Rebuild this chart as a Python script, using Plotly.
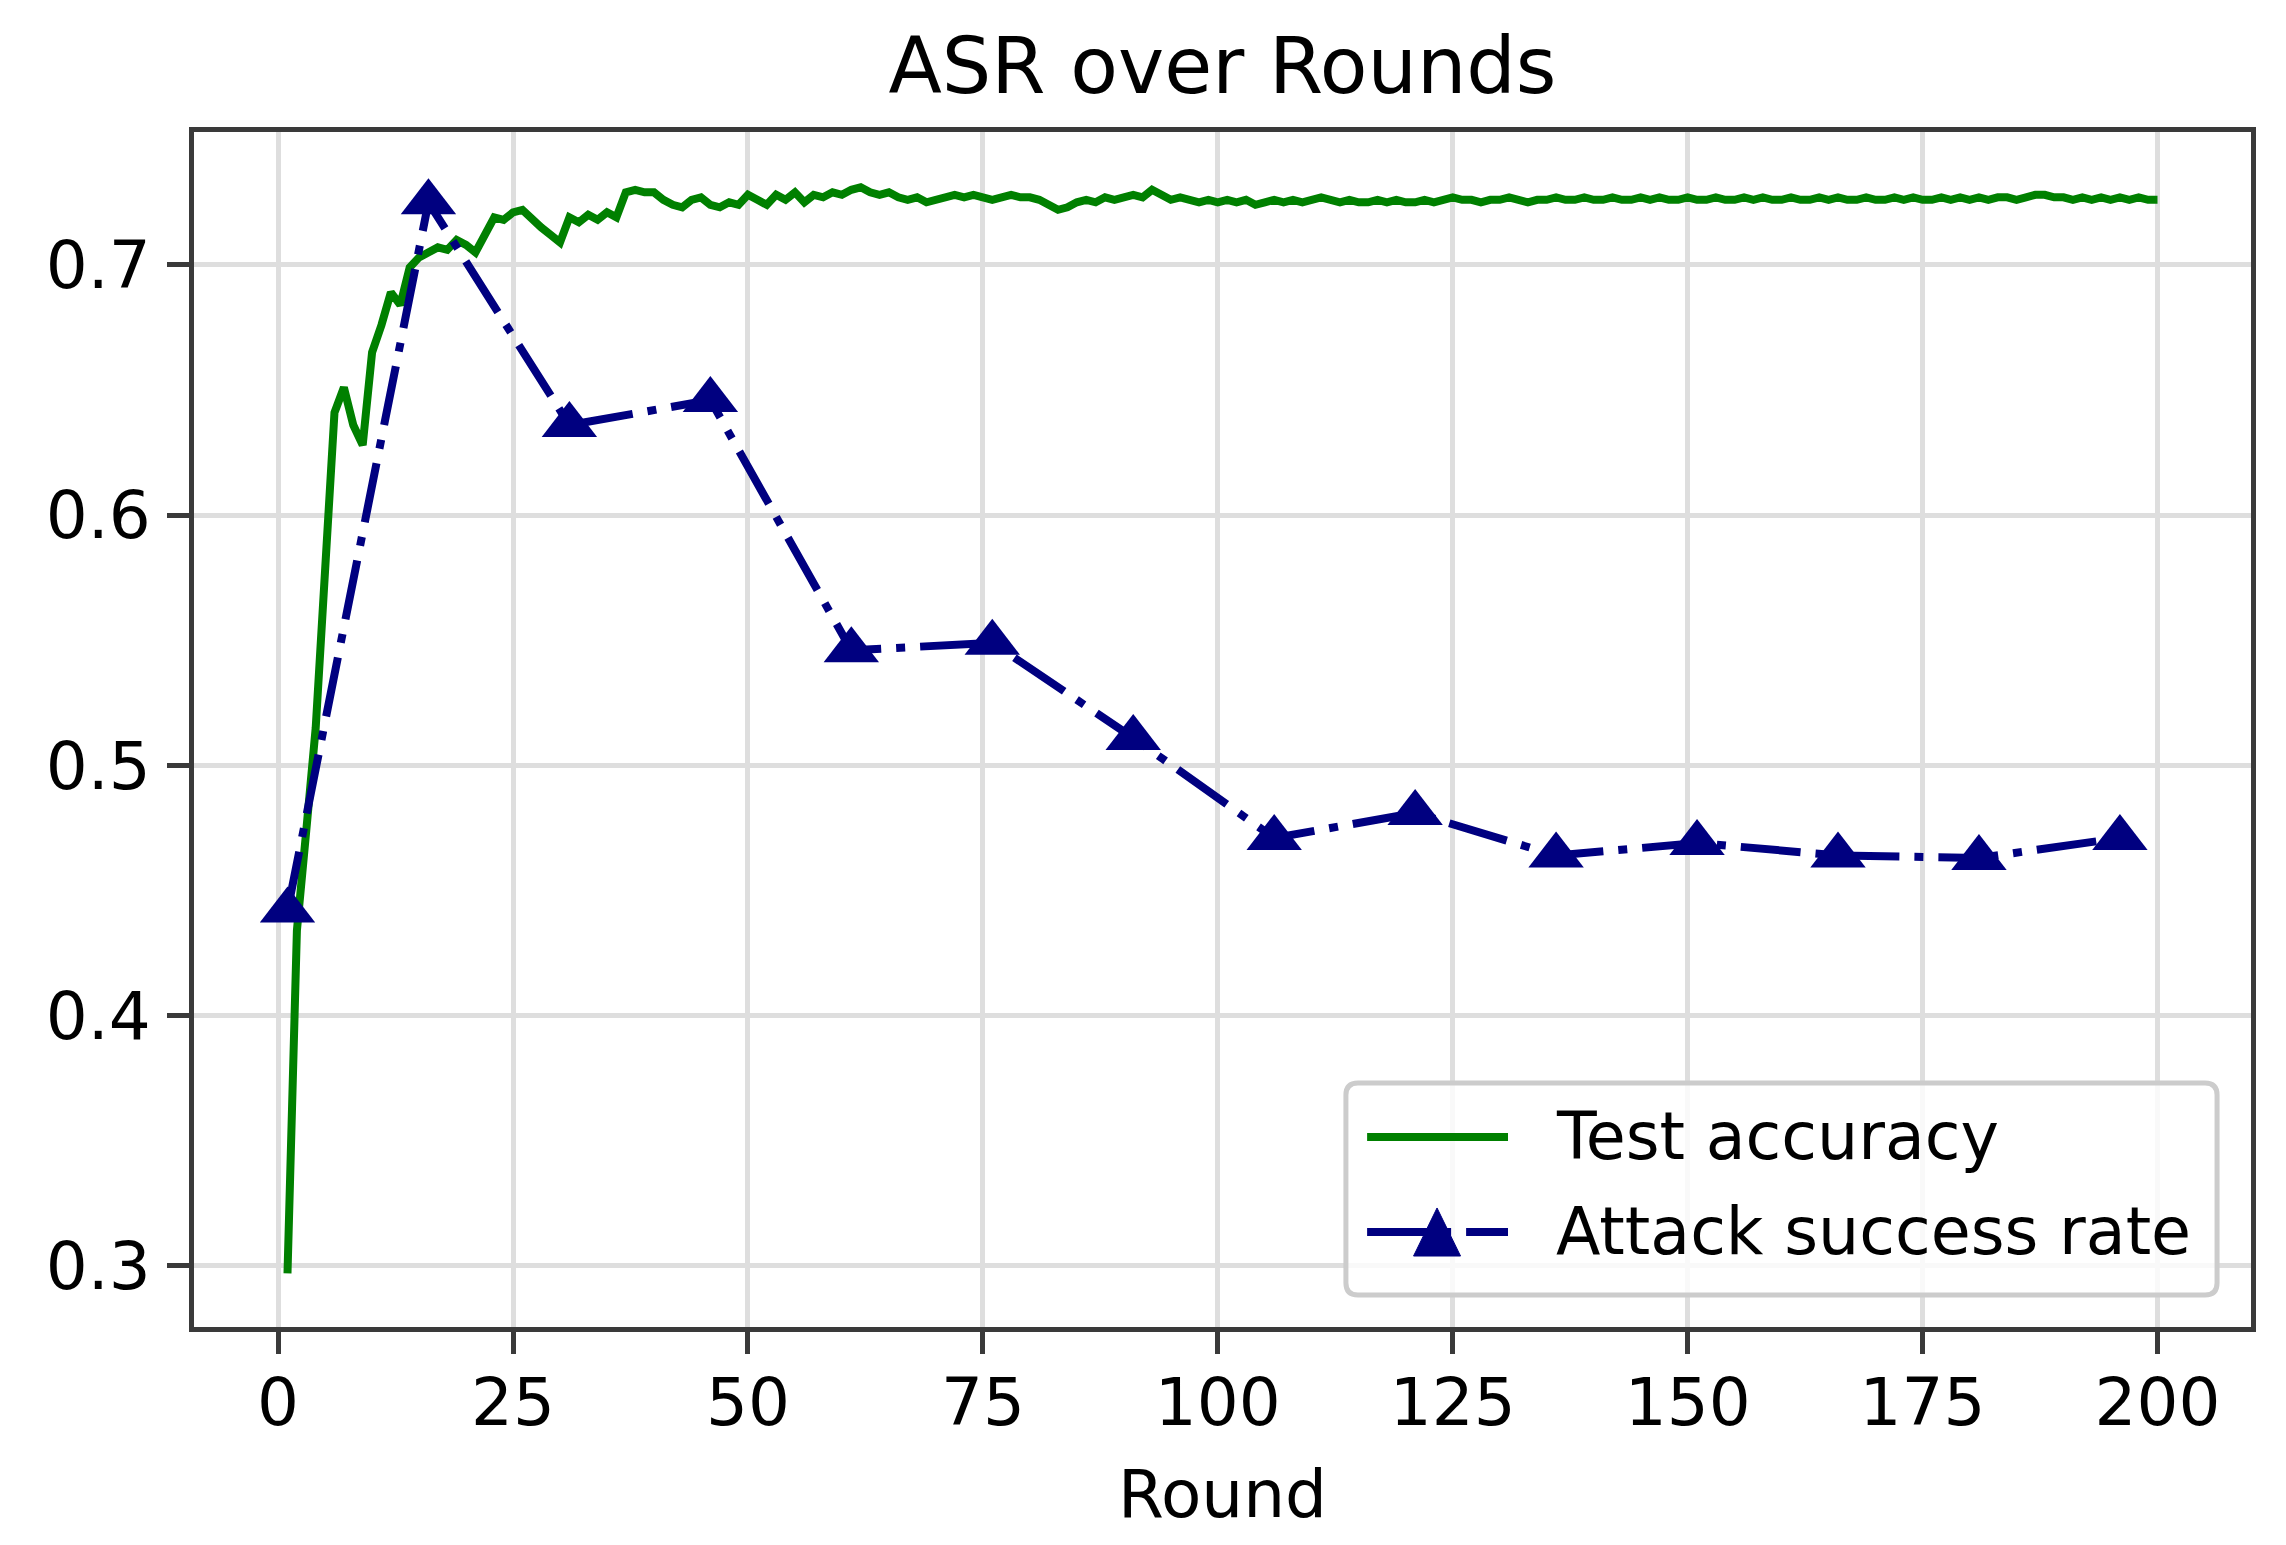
import plotly.graph_objects as go

# ---------------- data ----------------
rounds_acc = list(range(1, 201))
test_accuracy = [
    0.297, 0.434, 0.474, 0.515, 0.578, 0.641, 0.651, 0.636, 0.628, 0.665,
    0.676, 0.689, 0.684, 0.699, 0.703, 0.705, 0.707, 0.706, 0.710, 0.708,
    0.705, 0.712, 0.719, 0.718, 0.721, 0.722, 0.718, 0.715, 0.712, 0.709,
    0.719, 0.717, 0.720, 0.718, 0.721, 0.719, 0.729, 0.730, 0.729, 0.729,
    0.726, 0.724, 0.723, 0.726, 0.727, 0.724, 0.723, 0.725, 0.724, 0.728,
    0.726, 0.724, 0.728, 0.726, 0.729, 0.725, 0.728, 0.727, 0.729, 0.728,
    0.730, 0.731, 0.729, 0.728, 0.729, 0.727, 0.726, 0.727, 0.725, 0.726,
    0.727, 0.728, 0.727, 0.728, 0.727, 0.726, 0.727, 0.728, 0.727, 0.727,
    0.726, 0.724, 0.722, 0.723, 0.725, 0.726, 0.725, 0.727, 0.726, 0.727,
    0.728, 0.727, 0.730, 0.728, 0.726, 0.727, 0.726, 0.725, 0.726, 0.725,
    0.726, 0.725, 0.726, 0.724, 0.725, 0.726, 0.725, 0.726, 0.725, 0.726,
    0.727, 0.726, 0.725, 0.726, 0.725, 0.725, 0.726, 0.725, 0.726, 0.725,
    0.725, 0.726, 0.725, 0.726, 0.727, 0.726, 0.726, 0.725, 0.726, 0.726,
    0.727, 0.726, 0.725, 0.726, 0.726, 0.727, 0.726, 0.726, 0.727, 0.726,
    0.726, 0.727, 0.726, 0.726, 0.727, 0.726, 0.727, 0.726, 0.726, 0.727,
    0.726, 0.726, 0.727, 0.726, 0.726, 0.727, 0.726, 0.727, 0.726, 0.726,
    0.727, 0.726, 0.726, 0.727, 0.726, 0.727, 0.726, 0.726, 0.727, 0.726,
    0.726, 0.727, 0.726, 0.727, 0.726, 0.726, 0.727, 0.726, 0.727, 0.726,
    0.727, 0.726, 0.727, 0.727, 0.726, 0.727, 0.728, 0.728, 0.727, 0.727,
    0.726, 0.727, 0.726, 0.727, 0.726, 0.727, 0.726, 0.727, 0.726, 0.726,
]
rounds_asr = [1, 16, 31, 46, 61, 76, 91, 106, 121, 136, 151, 166, 181, 196]
attack_success_rate = [0.442, 0.725, 0.636, 0.646, 0.546, 0.549, 0.511,
                       0.471, 0.481, 0.464, 0.469, 0.464, 0.463, 0.471]
x_ticks = [0, 25, 50, 75, 100, 125, 150, 175, 200]
y_ticks = [0.3, 0.4, 0.5, 0.6, 0.7]
series_names = ["Test accuracy", "Attack success rate"]

# ---------------- styling ----------------
FONT = "DejaVu Sans"
GREEN = "#008000"
NAVY = "#000080"
DASHDOT = "60px,15px,9px,15px"
PAGE_OFFSET = 8  # default body margin of the html page
W, H = 2286 - PAGE_OFFSET, 1545 - PAGE_OFFSET
ML, MR, MT, MB = 194 - PAGE_OFFSET, 35, 132 - PAGE_OFFSET, 218

fig = go.Figure()
fig.add_trace(go.Scatter(
    x=rounds_acc, y=test_accuracy, mode="lines", name=series_names[0],
    line=dict(color=GREEN, width=8), showlegend=False,
))
fig.add_trace(go.Scatter(
    x=rounds_asr, y=attack_success_rate, mode="lines+markers", name=series_names[1],
    line=dict(color=NAVY, width=8, dash=DASHDOT),
    marker=dict(symbol="triangle-up", size=48, color=NAVY),
    showlegend=False,
))

axis_common = dict(
    showline=True, linecolor="#3a3a3a", linewidth=5, mirror=True,
    ticks="outside", ticklen=22, tickwidth=5, tickcolor="#3a3a3a",
    showgrid=True, gridcolor="#dedede", gridwidth=5, zeroline=False,
    tickfont=dict(family=FONT, size=66, color="black"),
)
fig.update_xaxes(range=[-8.95, 209.95], tickvals=x_ticks,
                 ticktext=[str(v) for v in x_ticks],
                 title=dict(text="Round", font=dict(family=FONT, size=66, color="black"),
                            standoff=32),
                 ticklabelstandoff=-8,
                 **axis_common)
fig.update_yaxes(range=[0.2756, 0.7531], tickvals=y_ticks,
                 ticktext=[f"{v:.1f}" for v in y_ticks],
                 ticklabelstandoff=3,
                 **axis_common)

# ---------------- legend (drawn in paper coordinates) ----------------
lx0, lx1, ly0, ly1 = 0.5600, 0.9835, 0.0268, 0.2042
rx, ry = 12 / (W - ML - MR), 12 / (H - MT - MB)
box_path = (f"M {lx0+rx},{ly0} L {lx1-rx},{ly0} Q {lx1},{ly0} {lx1},{ly0+ry} "
            f"L {lx1},{ly1-ry} Q {lx1},{ly1} {lx1-rx},{ly1} "
            f"L {lx0+rx},{ly1} Q {lx0},{ly1} {lx0},{ly1-ry} "
            f"L {lx0},{ly0+ry} Q {lx0},{ly0} {lx0+rx},{ly0} Z")
shapes = [
    dict(type="path", xref="paper", yref="paper", path=box_path,
         fillcolor="rgba(255,255,255,0.8)", line=dict(color="#cccccc", width=5)),
    dict(type="line", xref="paper", yref="paper", x0=0.5703, x1=0.6388, y0=0.1590, y1=0.1590,
         line=dict(color=GREEN, width=8)),
    dict(type="line", xref="paper", yref="paper", x0=0.5703, x1=0.6388, y0=0.0795, y1=0.0795,
         line=dict(color=NAVY, width=8, dash=DASHDOT)),
    dict(type="path", xref="paper", yref="paper",
         path=f"M {0.6043-0.01142},0.0594 L {0.6043+0.01142},0.0594 L 0.6043,0.0996 Z",
         fillcolor=NAVY, line=dict(color=NAVY, width=1)),
]
annotations = [
    dict(xref="paper", yref="paper", x=0.6610, y=0.1590, text=series_names[0],
         showarrow=False, xanchor="left", yanchor="middle",
         font=dict(family=FONT, size=65, color="black")),
    dict(xref="paper", yref="paper", x=0.6610, y=0.0795, text=series_names[1],
         showarrow=False, xanchor="left", yanchor="middle",
         font=dict(family=FONT, size=65, color="black")),
]

fig.update_layout(
    width=W, height=H,
    margin=dict(l=ML, r=MR, t=MT, b=MB, autoexpand=False),
    paper_bgcolor="white", plot_bgcolor="white",
    title=dict(text="ASR over Rounds", x=0.5, xref="paper", xanchor="center",
               y=1 - (66 - PAGE_OFFSET) / H, yref="container", yanchor="middle",
               font=dict(family=FONT, size=78, color="black")),
    shapes=shapes, annotations=annotations,
    showlegend=False,
)

fig.write_html("out.html")
